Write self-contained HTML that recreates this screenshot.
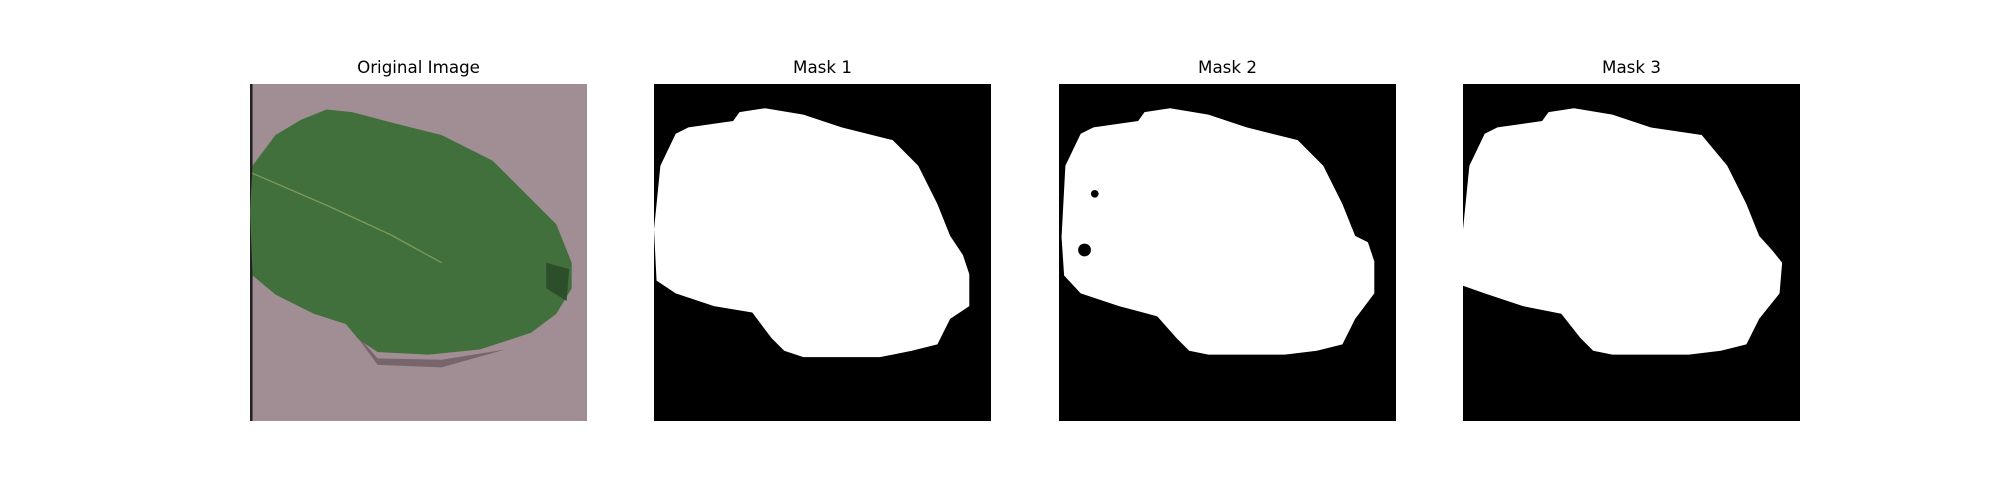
<!DOCTYPE html>
<html><head><meta charset="utf-8">
<style>
body{margin:0;background:#fff;}
#fig{position:relative;width:2000px;height:500px;background:#fff;font-family:"DejaVu Sans","Liberation Sans",sans-serif;}
.panel{position:absolute;top:84px;width:337px;height:337px;}
.title{position:absolute;top:57px;width:337px;text-align:center;font-size:16.7px;color:#000;}
svg{display:block}
</style></head>
<body>
<div id="fig">
  <div class="title" style="left:250px">Original Image</div>
  <div class="title" style="left:654px">Mask 1</div>
  <div class="title" style="left:1059px">Mask 2</div>
  <div class="title" style="left:1463px">Mask 3</div>

  <div class="panel" style="left:250px">
    <svg width="337" height="337" viewBox="0 0 264 264" preserveAspectRatio="none">
      <rect width="264" height="264" fill="#a08e94"/>
      <rect width="2" height="264" fill="#222"/>
      <path d="M78,190 L100,215 L150,216 L200,208 L150,222 L100,220 Z" fill="#5a4a50" opacity="0.6"/>
      <path d="M2,64 L20,40 L40,28 L60,20 L80,22 L110,30 L150,40 L190,60 L220,90 L240,110 L252,140 L252,160 L240,180 L220,195 L180,208 L140,212 L100,210 L85,200 L75,188 L50,180 L20,165 L2,150 L0,100 Z" fill="#41703c"/>
      <path d="M232,140 L250,145 L248,170 L232,160 Z" fill="#2c4e2a"/>
      <path d="M2,70 L60,95 L110,118 L150,140" stroke="#7f9a5a" stroke-width="1" fill="none"/>
    </svg>
  </div>
  <div class="panel" style="left:654px">
    <svg width="337" height="337" viewBox="0 0 264 264" preserveAspectRatio="none">
      <rect width="264" height="264" fill="#000"/>
      <path d="M27,34 L62,29 L67,22 L87,19 L117,24 L147,34 L187,44 L207,64 L222,94 L232,119 L242,134 L247,149 L247,174 L232,184 L222,204 L202,209 L177,214 L117,214 L102,209 L92,199 L77,179 L47,174 L17,164 L2,154 L0,114 L5,64 L17,39 Z" fill="#fff"/>
    </svg>
  </div>
  <div class="panel" style="left:1059px">
    <svg width="337" height="337" viewBox="0 0 264 264" preserveAspectRatio="none">
      <rect width="264" height="264" fill="#000"/>
      <path d="M27,34 L62,29 L67,22 L87,19 L117,24 L147,34 L187,44 L207,64 L222,94 L232,119 L242,124 L247,139 L247,164 L232,184 L222,204 L202,209 L177,212 L117,212 L102,209 L92,199 L77,182 L47,174 L17,164 L4,150 L2,120 L5,64 L17,39 Z" fill="#fff"/>
      <circle cx="28" cy="86" r="3" fill="#000"/>
      <circle cx="20" cy="130" r="5" fill="#000"/>
    </svg>
  </div>
  <div class="panel" style="left:1463px">
    <svg width="337" height="337" viewBox="0 0 264 264" preserveAspectRatio="none">
      <rect width="264" height="264" fill="#000"/>
      <path d="M27,34 L62,29 L67,22 L87,19 L117,24 L147,34 L187,40 L207,64 L222,94 L232,119 L242,130 L250,140 L248,164 L232,184 L222,204 L202,209 L177,212 L117,212 L102,209 L92,199 L77,180 L47,174 L17,164 L0,158 L0,114 L5,64 L17,39 Z" fill="#fff"/>
    </svg>
  </div>
</div>
</body></html>
